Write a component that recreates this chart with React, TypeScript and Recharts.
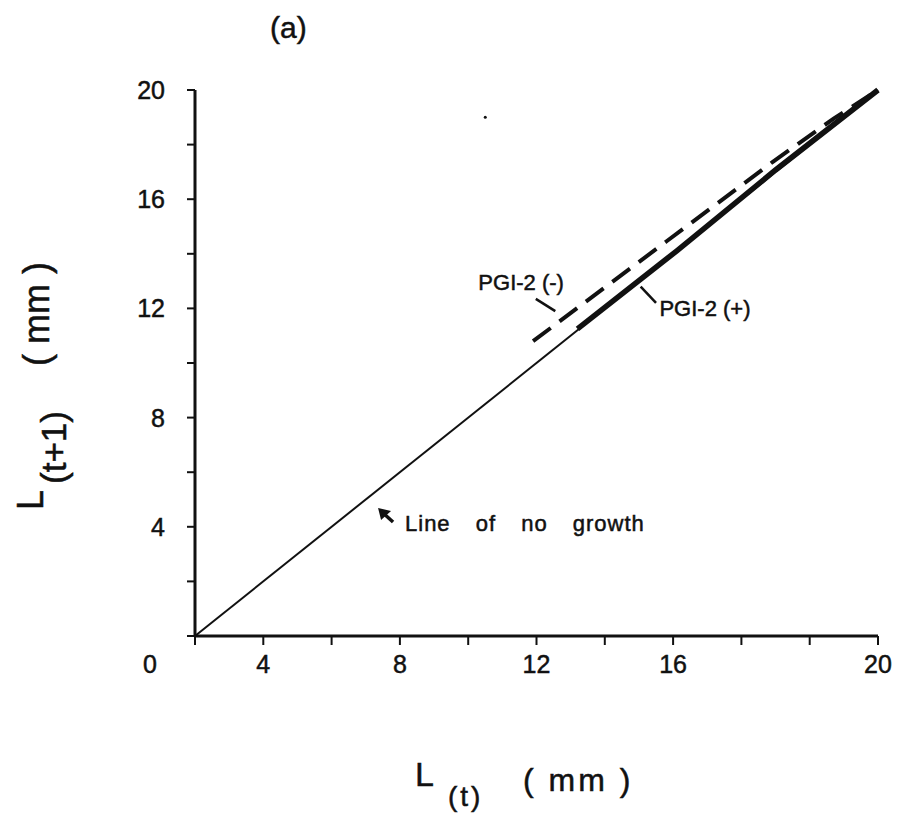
import { LineChart, Line, XAxis, YAxis, ReferenceLine, ReferenceDot, Label } from "recharts";

// line of no growth (y = x)
const noGrowthX = [0, 20];
const noGrowthY = [0, 20];
// PGI-2 (+) solid thick
const pgiPlusX = [11.2, 14.1, 17.0, 20];
const pgiPlusY = [11.25, 14.1, 17.07, 20];
// PGI-2 (-) dashed
const pgiMinusX = [9.9, 13.8, 16.9, 18.7, 20];
const pgiMinusY = [10.8, 14.45, 17.35, 18.95, 20];

const xTicks = [0, 2, 4, 6, 8, 10, 12, 14, 16, 18, 20];
const yTicks = [0, 2, 4, 6, 8, 10, 12, 14, 16, 18, 20];
// labels as printed under the tick marks in the original figure
const xTickLabels: Record<number, string> = { 0: "0", 2: "4", 6: "8", 10: "12", 14: "16", 20: "20" };
const yTickLabels: Record<number, string> = { 4: "4", 8: "8", 12: "12", 16: "16", 20: "20" };

const toPoints = (xs: number[], ys: number[]) => xs.map((x, i) => ({ x, y: ys[i] }));

const FONT = "'Liberation Sans', Arial, Helvetica, sans-serif";
const INK = "#111";
// scanned print looks a bit heavier than a plain regular face
const heavy = { stroke: INK, strokeWidth: 0.5 };

function XTick(props: any) {
  const { x, y, payload } = props;
  const label = xTickLabels[payload.value];
  if (!label) return null;
  const dx = payload.value === 0 ? -45 : 0;
  return (
    <text x={x + dx} y={y + 26} textAnchor="middle" fontSize={25} fontFamily={FONT} fill={INK} {...heavy}>
      {label}
    </text>
  );
}

function YTick(props: any) {
  const { x, y, payload } = props;
  const label = yTickLabels[payload.value];
  if (!label) return null;
  return (
    <text x={x - 20} y={y + 9} textAnchor="end" fontSize={25} fontFamily={FONT} fill={INK} {...heavy}>
      {label}
    </text>
  );
}

function Note({ cx, cy, text, anchor = "middle", size = 22, spacing = 0, letter = 0 }: any) {
  return (
    <text
      x={cx}
      y={cy + size * 0.36}
      textAnchor={anchor}
      fontSize={size}
      fontFamily={FONT}
      fill={INK}
      {...heavy}
      style={{ wordSpacing: spacing, letterSpacing: letter }}
    >
      {text}
    </text>
  );
}

function ArrowHead({ cx, cy }: any) {
  return (
    <g>
      <polygon points={`${cx},${cy} ${cx + 13},${cy + 3} ${cx + 3},${cy + 12}`} fill={INK} />
      <line x1={cx + 5} y1={cy + 5} x2={cx + 15} y2={cy + 14} stroke={INK} strokeWidth={3.5} />
    </g>
  );
}

export default function App() {
  return (
    <div style={{ position: "absolute", left: 0, top: 0, background: "#fff" }}>
      <LineChart width={898} height={820} margin={{ top: 90, right: 20, bottom: 0, left: 0 }}>
        <text x={270} y={38} fontSize={30} fontFamily={FONT} fill={INK} {...heavy}>
          (a)
        </text>
        <XAxis
          type="number"
          dataKey="x"
          domain={[0, 20]}
          ticks={xTicks}
          interval={0}
          height={184}
          tick={<XTick />}
          tickSize={9}
          axisLine={{ stroke: INK, strokeWidth: 3 }}
          tickLine={{ stroke: INK, strokeWidth: 2 }}
        >
          <Label
            content={() => (
              <g fontFamily={FONT} fill={INK} {...heavy}>
                <text x={415} y={786} fontSize={34}>L</text>
                <text x={448} y={806} fontSize={28} letterSpacing={3}>(t)</text>
                <text x={523} y={791} fontSize={32} letterSpacing={3}>( mm )</text>
              </g>
            )}
          />
        </XAxis>
        <YAxis
          type="number"
          dataKey="y"
          domain={[0, 20]}
          ticks={yTicks}
          interval={0}
          width={195}
          tick={<YTick />}
          tickSize={8}
          axisLine={{ stroke: INK, strokeWidth: 3 }}
          tickLine={{ stroke: INK, strokeWidth: 2 }}
        >
          <Label
            content={() => (
              <g fontFamily={FONT} fill={INK} {...heavy}>
                <text transform="rotate(-90 43 510)" x={43} y={510} fontSize={36}>L</text>
                <text transform="rotate(-90 66 484)" x={66} y={484} fontSize={35}>(t+1)</text>
                <text transform="rotate(-90 49 366)" x={49} y={366} fontSize={36}>( mm )</text>
              </g>
            )}
          />
        </YAxis>

        <Line
          data={toPoints(noGrowthX, noGrowthY)}
          dataKey="y"
          stroke={INK}
          strokeWidth={2}
          dot={false}
          isAnimationActive={false}
        />
        <Line
          data={toPoints(pgiPlusX, pgiPlusY)}
          dataKey="y"
          stroke={INK}
          strokeWidth={5.5}
          dot={false}
          isAnimationActive={false}
        />
        <Line
          data={toPoints(pgiMinusX, pgiMinusY)}
          dataKey="y"
          stroke={INK}
          strokeWidth={4}
          strokeDasharray="22 11"
          dot={false}
          isAnimationActive={false}
        />

        <ReferenceLine segment={[{ x: 9.98, y: 12.35 }, { x: 10.55, y: 11.9 }]} stroke={INK} strokeWidth={2.5} />
        <ReferenceLine segment={[{ x: 13.05, y: 12.8 }, { x: 13.5, y: 12.2 }]} stroke={INK} strokeWidth={2.5} />

        <ReferenceDot x={9.55} y={12.97} r={0} shape={(p: any) => <Note {...p} text="PGI-2 (-)" />} />
        <ReferenceDot x={13.6} y={12.0} r={0} shape={(p: any) => <Note {...p} text="PGI-2 (+)" anchor="start" />} />
        <ReferenceDot
          x={6.15}
          y={4.14}
          r={0}
          shape={(p: any) => <Note {...p} text="Line of no growth" anchor="start" size={22} spacing={18} letter={1} />}
        />
        <ReferenceDot x={5.36} y={4.69} r={0} shape={(p: any) => <ArrowHead {...p} />} />
        <ReferenceDot x={8.5} y={19.0} r={1.5} fill={INK} stroke="none" />
      </LineChart>
    </div>
  );
}
